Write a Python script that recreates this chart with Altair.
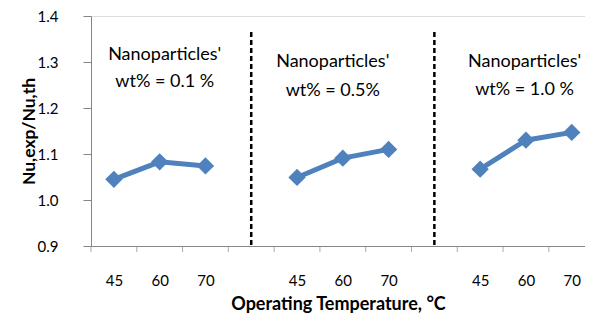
import altair as alt
import pandas as pd

# ---- data ----
tick_labels = ["45", "60", "70", "", "45", "60", "70", "", "45", "60", "70"]
positions = [0.5, 1.5, 2.5, 4.5, 5.5, 6.5, 8.5, 9.5, 10.5]
groups = ["0.1", "0.1", "0.1", "0.5", "0.5", "0.5", "1.0", "1.0", "1.0"]
ratio = [1.045, 1.083, 1.074, 1.049, 1.091, 1.110, 1.067, 1.130, 1.147]

divider_pos = [3.5, 7.5]
divider_top = [1.365, 1.365]

ann_text = ["Nanoparticles'", "wt% = 0.1 %",
            "Nanoparticles'", "wt% = 0.5%",
            "Nanoparticles'", "wt% = 1.0 %"]
ann_x = [1.61, 1.61, 5.28, 5.28, 9.47, 9.47]
ann_y = [1.315, 1.257, 1.299, 1.238, 1.300, 1.239]

y_ticks = [0.9, 1.0, 1.1, 1.2, 1.3, 1.4]

FONT = "Lato"
BLUE = "#4F81BD"
GRAY = "#868686"

df = pd.DataFrame({"pos": positions, "group": groups, "ratio": ratio})
df_div = pd.DataFrame({"pos": divider_pos, "top": divider_top, "bottom": [0.9] * len(divider_pos)})
df_ann = pd.DataFrame({"text": ann_text, "x": ann_x, "y": ann_y})
df_bound = pd.DataFrame({"b": [float(i) for i in range(len(tick_labels))],
                         "y0": [0.9] * len(tick_labels)})

# category labels at band centres
label_values = [i + 0.5 for i in range(len(tick_labels))]
label_expr = ""
for v, t in zip(label_values, tick_labels):
    label_expr += "datum.value == " + str(v) + " ? '" + t + "' : "
label_expr += "''"

# the reference's plot area is cut at the right edge of the picture
x_scale = alt.Scale(domain=[0, 10.79], nice=False, zero=False)
y_scale = alt.Scale(domain=[0.9, 1.4], nice=False, zero=False)

x_axis = alt.Axis(
    values=label_values,
    labelExpr=label_expr,
    labelOverlap=False,
    labelFlush=False,
    ticks=False,
    labelPadding=27,
    labelFontSize=15,
    labelFont=FONT,
    labelColor="#000000",
    domainColor=GRAY,
    domainWidth=1,
    grid=False,
    title="Operating Temperature, °C",
    titleFont=FONT,
    titleFontSize=18,
    titleFontWeight="bold",
    titleColor="#000000",
    titleBaseline="middle",
    titleY=58,
)

y_axis = alt.Axis(
    values=y_ticks,
    format=".1f",
    tickSize=8,
    tickColor=GRAY,
    labelPadding=25,
    labelFontSize=15,
    labelFont=FONT,
    labelColor="#000000",
    domainColor=GRAY,
    domainWidth=1,
    grid=False,
    title="Nu,exp/Nu,th",
    titleFont=FONT,
    titleFontSize=17.5,
    titleFontWeight="bold",
    titleColor="#000000",
    titleAngle=-90,
    titleAlign="center",
    titleBaseline="middle",
    titleX=-62,
    titleY=115,
)

base = alt.Chart(df)

lines = base.mark_line(color=BLUE, strokeWidth=5).encode(
    x=alt.X("pos:Q", scale=x_scale, axis=x_axis),
    y=alt.Y("ratio:Q", scale=y_scale, axis=y_axis),
    detail="group:N",
)

points = base.mark_point(shape="diamond", filled=True, color=BLUE, opacity=1, size=300).encode(
    x=alt.X("pos:Q"),
    y=alt.Y("ratio:Q"),
)

bounds = alt.Chart(df_bound).mark_tick(color=GRAY, thickness=1, size=6, orient="vertical", yOffset=3).encode(
    x=alt.X("b:Q"),
    y=alt.Y("y0:Q"),
)

dividers = alt.Chart(df_div).mark_rule(color="#000000", strokeWidth=2.5, strokeDash=[5, 3]).encode(
    x=alt.X("pos:Q"),
    y=alt.Y("top:Q"),
    y2="bottom:Q",
)

annotations = alt.Chart(df_ann).mark_text(font=FONT, fontSize=18, color="#000000",
                                          align="center", baseline="middle").encode(
    x=alt.X("x:Q"),
    y=alt.Y("y:Q"),
    text="text:N",
)

chart = alt.layer(lines, bounds, dividers, points, annotations).properties(
    width=494,
    height=230,
    autosize=alt.AutoSizeParams(type="none"),
    padding={"left": 83, "top": 8, "right": 0, "bottom": 67},
).configure_view(strokeWidth=0, stroke="transparent").configure(background="white")

chart.save("out.html", embed_options={"renderer": "svg", "actions": False})
